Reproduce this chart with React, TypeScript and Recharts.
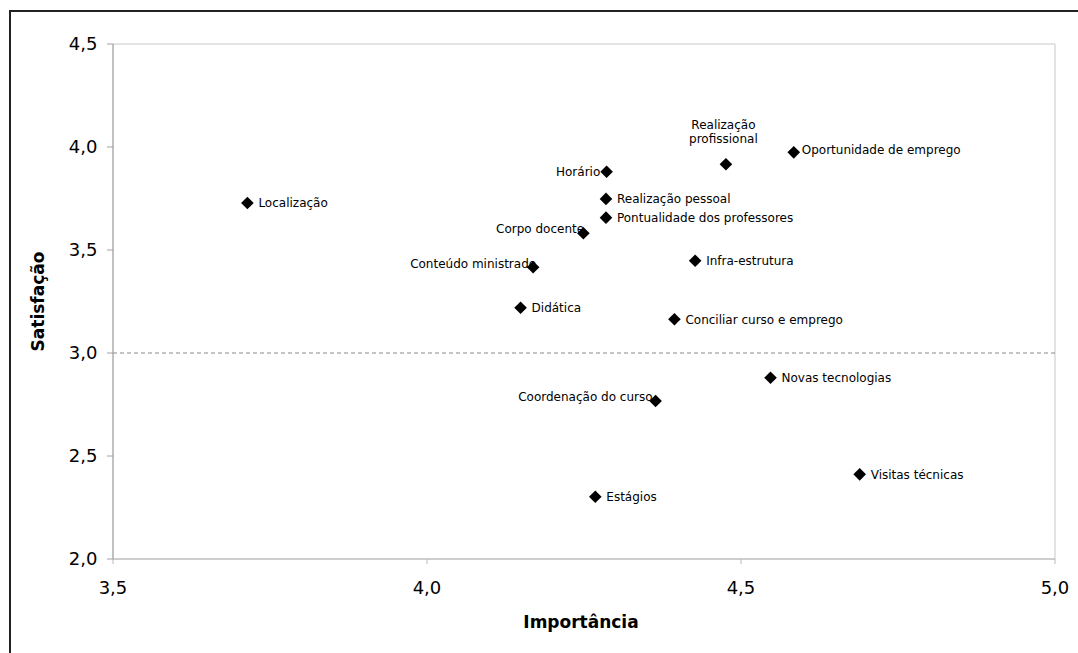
import React from 'react';
import { ScatterChart, Scatter, XAxis, YAxis, ReferenceLine, ReferenceArea, Label } from 'recharts';

const categories = [
  'Localização',
  'Horário',
  'Realização profissional',
  'Oportunidade de emprego',
  'Realização pessoal',
  'Pontualidade dos professores',
  'Corpo docente',
  'Conteúdo ministrado',
  'Infra-estrutura',
  'Didática',
  'Conciliar curso e emprego',
  'Novas tecnologias',
  'Coordenação do curso',
  'Visitas técnicas',
  'Estágios',
];
const importancia = [3.714, 4.286, 4.476, 4.584, 4.285, 4.285, 4.249, 4.169, 4.427, 4.149, 4.394, 4.547, 4.364, 4.689, 4.268];
const satisfacao = [3.728, 3.88, 3.916, 3.974, 3.748, 3.657, 3.581, 3.416, 3.448, 3.22, 3.164, 2.88, 2.767, 2.411, 2.302];
const xTicks = [3.5, 4.0, 4.5, 5.0];
const yTicks = [2.0, 2.5, 3.0, 3.5, 4.0, 4.5];
const threshold = 3.0;

const data = categories.map((name, i) => ({ name, x: importancia[i], y: satisfacao[i] }));

const FONT = '"DejaVu Sans", "Liberation Sans", sans-serif';
const fmt = (v: number) => v.toFixed(1).replace('.', ',');

type Place = { anchor: 'start' | 'middle'; dx: number; dy: number };
const DEFAULT_PLACE: Place = { anchor: 'start', dx: 11, dy: 0 };
const placement: Record<string, Place> = {
  'Horário': { anchor: 'start', dx: -50.6, dy: 0 },
  'Corpo docente': { anchor: 'start', dx: -87.3, dy: -5 },
  'Conteúdo ministrado': { anchor: 'start', dx: -123, dy: -3.5 },
  'Coordenação do curso': { anchor: 'start', dx: -137.4, dy: -4.7 },
  'Oportunidade de emprego': { anchor: 'start', dx: 8, dy: -2.5 },
  'Realização profissional': { anchor: 'middle', dx: -2.5, dy: -35 },
};

const PointShape = (props: any) => {
  const { cx, cy, payload } = props;
  if (cx == null || cy == null) return null;
  const r = 6.3;
  const p = placement[payload.name] ?? DEFAULT_PLACE;
  let label: React.ReactNode;
  if (payload.name === 'Realização profissional') {
    const parts = payload.name.split(' ');
    label = (
      <text x={cx + p.dx} y={cy + p.dy} textAnchor="middle" fontSize={12} fontFamily={FONT} fill="#000">
        <tspan x={cx + p.dx} y={cy + p.dy}>{parts[0]}</tspan>
        <tspan x={cx + p.dx} y={cy + p.dy + 14}>{parts[1]}</tspan>
      </text>
    );
  } else {
    label = (
      <text x={cx + p.dx} y={cy + p.dy + 4.4} textAnchor={p.anchor} fontSize={12} fontFamily={FONT} fill="#000">
        {payload.name}
      </text>
    );
  }
  return (
    <g>
      {label}
      <path d={`M${cx},${cy - r}L${cx + r},${cy}L${cx},${cy + r}L${cx - r},${cy}Z`} fill="#000" />
    </g>
  );
};

const YTitle = (props: any) => {
  const vb = props.viewBox || { x: 33, y: 44, width: 80, height: 515 };
  const x = vb.x + 10.5;
  const y = vb.y + vb.height / 2;
  return (
    <text transform={`translate(${x},${y}) rotate(-90)`} textAnchor="middle" fontSize={17} fontWeight="bold" fontFamily={FONT} fill="#000">
      Satisfação
    </text>
  );
};

const XTitle = (props: any) => {
  const vb = props.viewBox || { x: 113, y: 559, width: 942, height: 80 };
  const x = vb.x + vb.width / 2 - 3;
  const y = vb.y + 69.3;
  return (
    <text x={x} y={y} textAnchor="middle" fontSize={17} fontWeight="bold" fontFamily={FONT} fill="#000">
      Importância
    </text>
  );
};

export default function App() {
  return (
    <div style={{ position: 'fixed', left: 0, top: 0, width: 1078, height: 653, overflow: 'hidden', background: '#fff' }}>
      <div
        style={{
          position: 'absolute',
          left: 9,
          top: 10,
          width: 1078,
          height: 653,
          borderLeft: '2.5px solid #222',
          borderTop: '2.5px solid #222',
          boxSizing: 'border-box',
        }}
      />
      <div style={{ position: 'absolute', left: 0, top: 0 }}>
        <ScatterChart width={1078} height={653} margin={{ top: 44, right: 23, bottom: 14, left: 33 }}>
          <ReferenceArea x1={3.5} x2={5} y1={2} y2={4.5} fill="none" fillOpacity={0} stroke="#c8c8c8" strokeWidth={1} ifOverflow="extendDomain" />
          <XAxis
            type="number"
            dataKey="x"
            domain={[3.5, 5]}
            ticks={xTicks}
            tickFormatter={fmt}
            height={80}
            tickSize={5}
            tickMargin={17.5}
            axisLine={{ stroke: '#b8b8b8' }}
            tickLine={{ stroke: '#b8b8b8' }}
            tick={{ fill: '#000', fontSize: 18, fontFamily: FONT }}
            interval={0}
            allowDataOverflow
          >
            <Label content={<XTitle />} />
          </XAxis>
          <YAxis
            type="number"
            dataKey="y"
            domain={[2, 4.5]}
            ticks={yTicks}
            tickFormatter={fmt}
            width={80}
            tickSize={6}
            tickMargin={9.5}
            axisLine={{ stroke: '#a0a0a0' }}
            tickLine={{ stroke: '#a0a0a0' }}
            tick={{ fill: '#000', fontSize: 18, fontFamily: FONT }}
            interval={0}
            allowDataOverflow
          >
            <Label content={<YTitle />} />
          </YAxis>
          <ReferenceLine y={threshold} stroke="#888" strokeDasharray="4 3" strokeWidth={1} />
          <Scatter data={data} shape={<PointShape />} isAnimationActive={false} />
        </ScatterChart>
      </div>
    </div>
  );
}
